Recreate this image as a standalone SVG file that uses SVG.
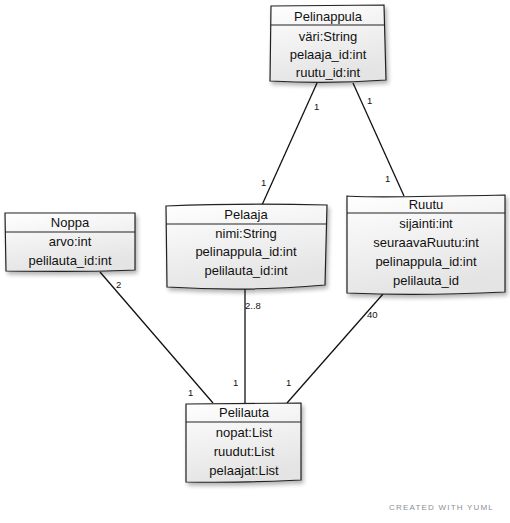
<svg xmlns="http://www.w3.org/2000/svg" width="510" height="523" viewBox="0 0 510 523">
<defs>
<linearGradient id="g" x1="0" y1="0" x2="0.3" y2="1">
<stop offset="0" stop-color="#ffffff"/>
<stop offset="1" stop-color="#e4e4e4"/>
</linearGradient>
<filter id="sh" x="-10%" y="-10%" width="130%" height="130%">
<feGaussianBlur in="SourceAlpha" stdDeviation="2"/>
<feOffset dx="2" dy="3" result="b"/>
<feComponentTransfer><feFuncA type="linear" slope="0.3"/></feComponentTransfer>
<feMerge><feMergeNode/><feMergeNode in="SourceGraphic"/></feMerge>
</filter>
</defs>
<style>
.box{fill:url(#g);stroke:#222;stroke-width:1.2;filter:url(#sh)}
.div{stroke:#222;stroke-width:1.1;fill:none}
.t{font-family:"Liberation Sans",Arial,sans-serif;font-size:13px;fill:#111;text-anchor:middle}
.e{stroke:#111;stroke-width:1.3;fill:none}
.l{font-family:"Liberation Sans",Arial,sans-serif;font-size:9.5px;fill:#111}
.c{font-family:"Liberation Sans",Arial,sans-serif;font-size:8px;fill:#8a8f98;letter-spacing:1.2px}
</style>
<g id="connectors">
<line class="e" x1="317" y1="83" x2="262" y2="205"/>
<line class="e" x1="353" y1="83" x2="404" y2="196"/>
<line class="e" x1="100" y1="272" x2="213" y2="403"/>
<line class="e" x1="245" y1="288" x2="245" y2="403"/>
<line class="e" x1="383" y1="294" x2="287" y2="403"/>
<text class="l" x="314" y="110">1</text>
<text class="l" x="261" y="186">1</text>
<text class="l" x="367" y="104">1</text>
<text class="l" x="385" y="182">1</text>
<text class="l" x="116" y="288">2</text>
<text class="l" x="188" y="396">1</text>
<text class="l" x="245" y="309">2..8</text>
<text class="l" x="233" y="386">1</text>
<text class="l" x="367" y="318">40</text>
<text class="l" x="286" y="386">1</text>
</g>
<g id="Pelinappula">
<path class="box" d="M271,6 L384,5 L386,80 Q330,84 270,81 Z"/>
<line class="div" x1="271" y1="25" x2="385" y2="25"/>
<text class="t" x="328" y="21">Pelinappula</text>
<text class="t" x="328" y="41">väri:String</text>
<text class="t" x="328" y="59">pelaaja_id:int</text>
<text class="t" x="328" y="77">ruutu_id:int</text>
</g>
<g id="Noppa">
<path class="box" d="M5,213 L135,213 L135,270 Q100,272 6,271 Z"/>
<line class="div" x1="5" y1="232" x2="135" y2="232"/>
<text class="t" x="70" y="227">Noppa</text>
<text class="t" x="70" y="246">arvo:int</text>
<text class="t" x="70" y="265">pelilauta_id:int</text>
</g>
<g id="Pelaaja">
<path class="box" d="M166,206 Q240,203 327,205 L325,285 Q250,292 167,287 Z"/>
<line class="div" x1="166" y1="224" x2="326" y2="224"/>
<text class="t" x="246" y="219">Pelaaja</text>
<text class="t" x="246" y="238">nimi:String</text>
<text class="t" x="246" y="256">pelinappula_id:int</text>
<text class="t" x="246" y="275">pelilauta_id:int</text>
</g>
<g id="Ruutu">
<path class="box" d="M347,196 Q370,198 505,195 L505,292 Q420,296 347,293 Z"/>
<line class="div" x1="347" y1="213" x2="505" y2="213"/>
<text class="t" x="426" y="209">Ruutu</text>
<text class="t" x="426" y="228">sijainti:int</text>
<text class="t" x="426" y="247">seuraavaRuutu:int</text>
<text class="t" x="426" y="266">pelinappula_id:int</text>
<text class="t" x="426" y="285">pelilauta_id</text>
</g>
<g id="Pelilauta">
<path class="box" d="M186,404 L301,403 L301,480 Q240,483 186,482 Z"/>
<line class="div" x1="186" y1="422" x2="301" y2="422"/>
<text class="t" x="244" y="417">Pelilauta</text>
<text class="t" x="244" y="437">nopat:List</text>
<text class="t" x="244" y="456">ruudut:List</text>
<text class="t" x="244" y="475">pelaajat:List</text>
</g>
<text class="c" x="389" y="510">CREATED WITH YUML</text>
</svg>
